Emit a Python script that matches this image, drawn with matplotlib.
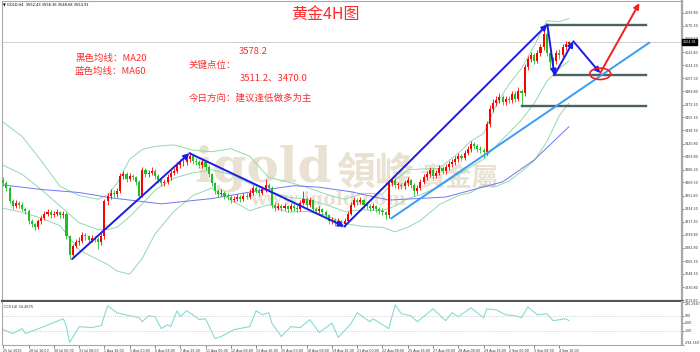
import numpy as np
import matplotlib.pyplot as plt
from matplotlib.patches import Ellipse

# ---- data (GOLD H4, 25 Jul - 5 Sep 2025) ----
close = [3368, 3362, 3345, 3338, 3342, 3340, 3334, 3332, 3318, 3314,
         3310, 3318, 3322, 3328, 3330, 3326, 3328, 3330, 3326, 3328,
         3298, 3274, 3285, 3290, 3292, 3300, 3298, 3293, 3296, 3294,
         3290, 3298, 3345, 3352, 3356, 3354, 3358, 3378, 3380, 3374,
         3378, 3376, 3370, 3352, 3386, 3380, 3382, 3385, 3378, 3372,
         3368, 3370, 3376, 3382, 3385, 3392, 3396, 3396, 3400, 3404,
         3398, 3396, 3392, 3396, 3390, 3380, 3368, 3358, 3354, 3356,
         3352, 3350, 3346, 3348, 3350, 3348, 3352, 3350, 3356, 3362,
         3358, 3356, 3360, 3366, 3362, 3340, 3336, 3338, 3336, 3338,
         3334, 3338, 3336, 3334, 3342, 3348, 3340, 3346, 3334, 3332,
         3334, 3330, 3326, 3318, 3320, 3316, 3318, 3314, 3318, 3328,
         3340, 3346, 3344, 3346, 3340, 3338, 3336, 3338, 3334, 3332,
         3330, 3326, 3368, 3372, 3366, 3366, 3364, 3368, 3372, 3366,
         3358, 3362, 3370, 3376, 3380, 3386, 3378, 3382, 3388, 3384,
         3390, 3394, 3396, 3400, 3404, 3402, 3408, 3414, 3420, 3418,
         3414, 3412, 3410, 3446, 3466, 3474, 3478, 3482, 3476, 3480,
         3478, 3486, 3480, 3490, 3488, 3522, 3532, 3538, 3530, 3540,
         3548, 3566, 3540, 3528, 3530, 3540, 3538, 3548, 3552.43, 3554.91]
high = [3376, 3371, 3364, 3348, 3346, 3345, 3343, 3337, 3334, 3321,
        3316, 3321, 3326, 3332, 3334, 3333, 3331, 3334, 3332, 3331,
        3330, 3300, 3288, 3294, 3297, 3304, 3303, 3300, 3300, 3299,
        3297, 3302, 3348, 3355, 3360, 3359, 3362, 3382, 3385, 3383,
        3382, 3380, 3378, 3372, 3390, 3389, 3386, 3390, 3387, 3380,
        3375, 3374, 3380, 3386, 3389, 3396, 3400, 3401, 3404, 3409,
        3406, 3402, 3399, 3400, 3398, 3392, 3382, 3370, 3361, 3360,
        3358, 3356, 3353, 3352, 3354, 3353, 3356, 3355, 3360, 3366,
        3365, 3362, 3364, 3374, 3368, 3364, 3343, 3342, 3341, 3342,
        3340, 3342, 3341, 3339, 3346, 3358, 3350, 3350, 3348, 3337,
        3338, 3336, 3333, 3328, 3324, 3322, 3322, 3320, 3322, 3332,
        3344, 3350, 3349, 3350, 3348, 3343, 3341, 3342, 3340, 3337,
        3335, 3332, 3372, 3376, 3375, 3370, 3369, 3372, 3376, 3374,
        3368, 3366, 3374, 3380, 3384, 3390, 3388, 3386, 3393, 3391,
        3394, 3398, 3400, 3404, 3408, 3407, 3412, 3418, 3424, 3423,
        3420, 3417, 3415, 3450, 3472, 3480, 3484, 3487, 3485, 3484,
        3483, 3490, 3490, 3495, 3493, 3526, 3536, 3542, 3540, 3544,
        3552, 3578, 3570, 3543, 3535, 3545, 3546, 3552, 3556, 3556.36]
low = [3364, 3358, 3342, 3334, 3335, 3336, 3331, 3328, 3314, 3310,
       3306, 3308, 3315, 3320, 3325, 3322, 3323, 3325, 3322, 3322,
       3294, 3268, 3270, 3282, 3286, 3289, 3293, 3289, 3290, 3290,
       3281, 3287, 3294, 3340, 3348, 3350, 3350, 3356, 3374, 3370,
       3371, 3372, 3366, 3348, 3350, 3376, 3377, 3379, 3374, 3368,
       3364, 3365, 3367, 3373, 3379, 3382, 3389, 3391, 3393, 3397,
       3394, 3392, 3388, 3389, 3386, 3376, 3364, 3354, 3350, 3351,
       3348, 3346, 3342, 3343, 3345, 3344, 3345, 3347, 3348, 3353,
       3355, 3352, 3353, 3357, 3358, 3336, 3332, 3333, 3332, 3333,
       3330, 3331, 3332, 3330, 3332, 3340, 3336, 3337, 3330, 3328,
       3329, 3326, 3322, 3314, 3315, 3312, 3313, 3311, 3311, 3316,
       3326, 3337, 3340, 3341, 3336, 3334, 3332, 3333, 3330, 3328,
       3326, 3321, 3322, 3364, 3362, 3361, 3360, 3360, 3364, 3362,
       3352, 3354, 3359, 3367, 3372, 3377, 3374, 3375, 3379, 3380,
       3381, 3386, 3390, 3392, 3396, 3398, 3399, 3405, 3410, 3414,
       3410, 3408, 3401, 3406, 3442, 3462, 3470, 3474, 3472, 3472,
       3474, 3475, 3476, 3477, 3469, 3484, 3518, 3528, 3526, 3527,
       3536, 3545, 3536, 3520, 3511, 3526, 3533, 3535, 3545, 3548.68]
first_open = 3372

# bollinger bands (20,2) and MA60 read at sample bars
bb_bar = [0, 6, 12, 18, 24, 30, 33, 36, 40, 44, 48, 54, 60, 66, 72, 78, 84, 90, 96,
          102, 108, 114, 120, 124, 128, 132, 138, 144, 148, 152, 156, 160, 164,
          168, 172, 176, 179]
bb_up = [3449, 3430, 3398, 3364, 3352, 3347, 3353, 3368, 3400, 3413, 3417, 3419,
         3412, 3410, 3414, 3404, 3376, 3370, 3363, 3354, 3347, 3355, 3354, 3372,
         3386, 3387, 3388, 3408, 3424, 3434, 3472, 3499, 3520, 3550, 3583, 3582, 3586]
bb_mid = [3392, 3380, 3360, 3338, 3316, 3307, 3307, 3310, 3324, 3341, 3359, 3375,
          3382, 3386, 3380, 3368, 3358, 3350, 3347, 3340, 3331, 3333, 3332, 3338,
          3348, 3353, 3364, 3380, 3390, 3400, 3418, 3435, 3452, 3474, 3503, 3520, 3530]
bb_low = [3335, 3330, 3322, 3312, 3280, 3267, 3261, 3252, 3248, 3269, 3301, 3331,
          3352, 3362, 3346, 3332, 3340, 3330, 3331, 3326, 3315, 3311, 3310, 3304,
          3310, 3319, 3340, 3352, 3356, 3366, 3364, 3371, 3384, 3398, 3423, 3458, 3474]
ma60_bar = [0, 12, 24, 34, 50, 66, 80, 92, 100, 110, 122, 140, 148, 158, 168, 179]
ma60 = [3366, 3360, 3356, 3349, 3341, 3348, 3358, 3365, 3363, 3357, 3346, 3350,
        3359, 3370, 3399, 3443]

# CCI(14)
cci_bar = [0, 3, 6, 7, 12, 19, 20, 21, 24, 28, 31, 33, 36, 40, 43, 44, 46, 48, 50, 52,
           53, 55, 56, 58, 60, 62, 64, 67, 69, 73, 78, 80, 82, 84, 85, 88, 91, 94, 97,
           100, 104, 106, 110, 112, 116, 117, 122, 124, 126, 129, 131, 133, 136, 140,
           142, 144, 148, 152, 153, 156, 159, 162, 164, 166, 169, 172, 174, 178, 179]
cci = [-87, -140, -73, -140, -60, 60, -47, -260, -47, -60, -33, 233, 140, 100, 73, 20,
       100, 87, -73, -20, -47, 167, 87, 167, 113, 47, 60, -207, -180, -87, -47, 167,
       113, 140, 0, -180, -47, -60, 47, -127, 0, -193, -10, 140, 20, 60, -73, 247, 127,
       100, 20, 87, 193, 33, 140, 87, 207, 73, 193, 180, 113, 100, 73, 220, 113, 127,
       33, 60, 34.47]

# analyst drawings
zig_bar = [21.8, 58.9, 107.9, 172.2, 174.4, 180.4, 188.9]
zig_price = [3268, 3408, 3311, 3578.2, 3511.2, 3556, 3514]
target_bar = 201.3
target_price = 3606.5
levels = [3578.2, 3511.2, 3470.0]
level_start = [172.2, 174.4, 164.2]
level_end = 203.5
trend_bar = [122.8, 204.4]
trend_price = [3321.9, 3554.1]
bid = 3554.91

price_ticks = [3593.80, 3576.30, 3559.30, 3541.80, 3524.30, 3507.30, 3489.80, 3472.30,
               3455.30, 3438.30, 3420.80, 3403.80, 3386.30, 3369.30, 3351.80, 3334.30,
               3317.30, 3299.80, 3282.80, 3265.30, 3248.30, 3230.80, 3213.80]
time_labels = ["25 Jul 2025", "28 Jul 16:00", "30 Jul 00:00", "31 Jul 08:00",
               "1 Aug 16:00", "5 Aug 00:00", "6 Aug 08:00", "7 Aug 16:00",
               "11 Aug 00:00", "12 Aug 08:00", "13 Aug 16:00", "15 Aug 00:00",
               "18 Aug 08:00", "19 Aug 16:00", "21 Aug 00:00", "22 Aug 08:00",
               "25 Aug 16:00", "27 Aug 00:00", "28 Aug 08:00", "29 Aug 16:00",
               "2 Sep 00:00", "3 Sep 08:00", "4 Sep 16:00"]

cjk = ['Noto Sans CJK SC', 'DejaVu Sans']
W, H = 700, 352
small = 2.35


def fx(px):
    return px / W


def fy(py):
    return 1 - py / H


fig = plt.figure(figsize=(7, 3.52), dpi=100)
ax = fig.add_axes([fx(2), fy(301), 680 / W, 300 / H])
ax2 = fig.add_axes([fx(2), fy(345), 680 / W, 43 / H])
ax.set_facecolor('none')

# watermark behind everything
wm = '#e9e1d1'
fig.text(fx(194), fy(181), 'igold', fontsize=35, fontweight='bold', family='DejaVu Serif',
         color=wm, zorder=-1)
fig.text(fx(336), fy(186), '領峰', fontsize=28, fontweight='bold', family='Noto Sans CJK TC',
         color=wm, zorder=-1)
fig.text(fx(420), fy(187), '貴金屬', fontsize=19, fontweight='bold', family='Noto Sans CJK TC',
         color=wm, zorder=-1)
fig.text(fx(250), fy(205), 'www.igold.com', fontsize=13.5, fontweight='bold',
         family='DejaVu Serif', color=wm, zorder=-1)

# candles
c = np.array(close, dtype=float)
o = np.r_[first_open, c[:-1]]
hi = np.array(high, dtype=float)
lo = np.array(low, dtype=float)
idx = np.arange(len(c))
cols = np.where(c >= o, '#ff0000', '#1fbf1f')
ax.vlines(idx, lo, hi, colors=cols, lw=0.6, zorder=2)
body = np.maximum(np.abs(c - o), 0.6)
ax.bar(idx, body, bottom=np.minimum(o, c), width=0.66, color=cols, lw=0, zorder=3)

# indicators
band_col = '#93d9ad'
ax.plot(bb_bar, bb_up, color=band_col, lw=0.7, zorder=1)
ax.plot(bb_bar, bb_mid, color=band_col, lw=0.7, zorder=1)
ax.plot(bb_bar, bb_low, color=band_col, lw=0.7, zorder=1)
ax.plot(ma60_bar, ma60, color='#7474f4', lw=0.7, zorder=1)

# bid line
ax.axhline(bid, color='#c8c8c8', lw=0.6, zorder=1)

# level lines
for lv, st in zip(levels, level_start):
    ax.plot([st, level_end], [lv, lv], color='#4a6262', lw=1.7, zorder=4)

# trend line
ax.plot(trend_bar, trend_price, color='#3b9cf5', lw=1.4, zorder=4)

# zigzag with arrow heads
for i in range(len(zig_bar) - 1):
    ax.annotate('', xy=(zig_bar[i + 1], zig_price[i + 1]),
                xytext=(zig_bar[i], zig_price[i]),
                arrowprops=dict(arrowstyle='-|>', color='#1c1ce6', lw=1.4,
                                mutation_scale=8, shrinkA=0, shrinkB=0), zorder=5)
ax.annotate('', xy=(target_bar, target_price), xytext=(zig_bar[-1], zig_price[-1]),
            arrowprops=dict(arrowstyle='-|>', color='#f02020', lw=1.4,
                            mutation_scale=8, shrinkA=0, shrinkB=0), zorder=5)
ax.add_patch(Ellipse((zig_bar[-1], zig_price[-1] - 1), 6.6, 15, fill=False,
                     ec='#f02020', lw=1.2, zorder=6))

ax.set_xlim(-0.4, -0.4 + 680 / 3.16)
ax.set_ylim(3212.5, 3609.3)
ax.set_xticks([])
ax.yaxis.tick_right()
ax.set_yticks(price_ticks)
ax.set_yticklabels(['%.2f' % t for t in price_ticks])
ax.tick_params(axis='y', labelsize=small, length=1.2, width=0.5, pad=0.6,
               colors='#505050', labelcolor='#303030')
for s in ax.spines.values():
    s.set_color('#a8a8a8')
    s.set_linewidth(0.8)
ax.spines['right'].set_linewidth(1.6)
ax.spines['bottom'].set_color('#555555')
ax.spines['bottom'].set_linewidth(1.6)

# current price box
ax.text(1.0015, bid, '%.2f' % bid, transform=ax.get_yaxis_transform(),
        fontsize=small, color='white', va='center', ha='left',
        bbox=dict(boxstyle='square,pad=0.25', fc='black', ec='black'))

# header
fig.text(fx(3), fy(4.5), '▼ GOLD,H4  3552.43 3556.36 3548.68 3554.91', fontsize=2.6,
         color='black', va='center')

# CCI panel
ax2.plot(cci_bar, cci, color='#86dcd2', lw=0.8)
for lv in [100, -100]:
    ax2.axhline(lv, color='#c4c4c4', lw=0.5, ls=(0, (1.5, 1.5)))
ax2.set_xlim(ax.get_xlim())
ax2.set_ylim(-294.369, 285.2667)
ax2.yaxis.tick_right()
ax2.set_yticks([285.2667, 100, 0, -100, -294.369])
ax2.set_yticklabels(['285.2667', '100', '0.00', '-100', '-294.369'])
ax2.tick_params(axis='y', labelsize=small, length=1.2, width=0.5, pad=0.6,
                colors='#505050', labelcolor='#303030')
for lab, va in zip(ax2.get_yticklabels(), ['top', 'center', 'center', 'center', 'bottom']):
    lab.set_va(va)
ax2.set_xticks(np.arange(len(time_labels)) * 8)
ax2.set_xticklabels(time_labels)
ax2.tick_params(axis='x', labelsize=small, length=2, width=0.5, pad=0.8,
                colors='#505050', labelcolor='#303030')
for lab in ax2.get_xticklabels():
    lab.set_ha('left')
for s in ax2.spines.values():
    s.set_color('#a8a8a8')
    s.set_linewidth(0.8)
ax2.spines['right'].set_linewidth(1.6)
ax2.spines['top'].set_visible(False)
ax2.text(0.003, 0.93, 'CCI(14) 34.4675', transform=ax2.transAxes, fontsize=2.6,
         color='#303030', va='top')

# red notes
red = '#ff2b2b'
fig.text(fx(325), fy(15), '黄金4H图', fontsize=11.5, color=red, family=cjk,
         ha='center', va='center')
fig.text(fx(75), fy(58.7), '黑色均线：MA20', fontsize=6.8, color=red, family=cjk, va='center')
fig.text(fx(75), fy(71.7), '蓝色均线：MA60', fontsize=6.8, color=red, family=cjk, va='center')
fig.text(fx(239), fy(51.7), '3578.2', fontsize=6.8, color=red, family=cjk, va='center')
fig.text(fx(189), fy(65), '关键点位：', fontsize=6.8, color=red, family=cjk, va='center')
fig.text(fx(240), fy(77.7), '3511.2、3470.0', fontsize=6.8, color=red, family=cjk, va='center')
fig.text(fx(189), fy(98.3), '今日方向：建议逢低做多为主', fontsize=6.8, color=red,
         family=cjk, va='center')

fig.savefig('out.png', dpi=100)
